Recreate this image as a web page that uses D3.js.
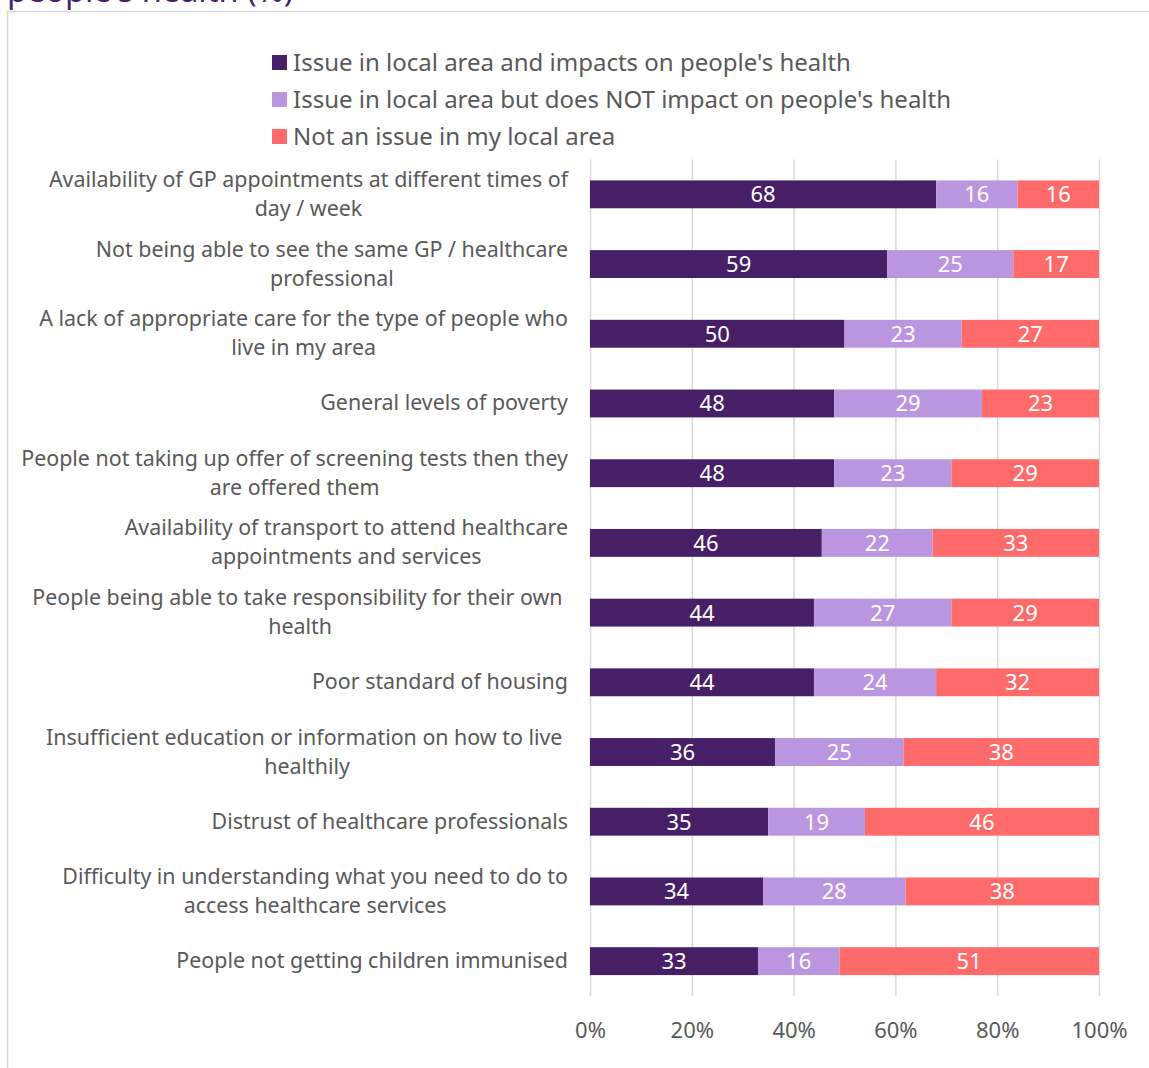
<!DOCTYPE html>
<html>
<head>
<meta charset="utf-8">
<script src="https://cdn.jsdelivr.net/npm/d3@7"></script>
<style>
  body { margin: 0; background: #fff; }
  svg { display: block; font-family: "Noto Sans", "Open Sans", sans-serif; }
  .cat text { white-space: pre; }
</style>
</head>
<body>
<svg id="chart" width="1149" height="1068"></svg>
<script>
// chart data
const categories = [
  ["Availability of GP appointments at different times of", "day / week"],
  ["Not being able to see the same GP / healthcare", "professional"],
  ["A lack of appropriate care for the type of people who", "live in my area"],
  ["General levels of poverty"],
  ["People not taking up offer of screening tests then they", "are offered them"],
  ["Availability of transport to attend healthcare", "appointments and services"],
  ["People being able to take responsibility for their own ", "health"],
  ["Poor standard of housing"],
  ["Insufficient education or information on how to live ", "healthily"],
  ["Distrust of healthcare professionals"],
  ["Difficulty in understanding what you need to do to", "access healthcare services"],
  ["People not getting children immunised"]
];
const impacts = [68, 59, 50, 48, 48, 46, 44, 44, 36, 35, 34, 33];
const noImpact = [16, 25, 23, 29, 23, 22, 27, 24, 25, 19, 28, 16];
const notIssue = [16, 17, 27, 23, 29, 33, 29, 32, 38, 46, 38, 51];
const seriesNames = [
  "Issue in local area and impacts on people's health",
  "Issue in local area but does NOT impact on people's health",
  "Not an issue in my local area"
];
const colors = ["#461f66", "#bb96e0", "#ff6b6b"];
const xTicks = [0, 0.2, 0.4, 0.6, 0.8, 1];

const svg = d3.select("#chart");
const grey = "#595959";

// outer frame and clipped title
svg.append("rect")
  .attr("x", 7.5).attr("y", 11.5)
  .attr("width", 1200).attr("height", 1100)
  .attr("fill", "none")
  .attr("stroke", "#d9d9d9")
  .attr("stroke-width", 1.5);
svg.append("text")
  .attr("x", 7).attr("y", 2)
  .attr("font-size", 32.5)
  .attr("fill", "#4b1f6f")
  .text("people's health (%)");

const rows = categories.map((c, i) => ({
  idx: i, lines: c, k0: impacts[i], k1: noImpact[i], k2: notIssue[i]
}));

const xScale = d3.scaleLinear().domain([0, 1]).range([590, 1099]);
const yScale = d3.scaleBand()
  .domain(rows.map(d => d.idx))
  .range([159.5, 996])
  .paddingInner(0.6)
  .paddingOuter(0.3);

// gridlines + x axis
const xAxis = svg.append("g")
  .attr("transform", `translate(0,${yScale.range()[1]})`)
  .call(d3.axisBottom(xScale)
    .tickValues(xTicks)
    .tickFormat(d3.format(".0%"))
    .tickSize(-(yScale.range()[1] - yScale.range()[0]))
    .tickPadding(26));
xAxis.select(".domain").remove();
xAxis.selectAll(".tick line").attr("stroke", "#d9d9d9").attr("stroke-width", 1.5);
xAxis.selectAll(".tick text")
  .attr("fill", grey)
  .attr("font-size", 22)
  .attr("font-family", "Noto Sans, sans-serif");

// stacked bars (100% stacked)
const stack = d3.stack()
  .keys(["k0", "k1", "k2"])
  .offset(d3.stackOffsetExpand);
const series = stack(rows);

const groups = svg.append("g").selectAll("g")
  .data(series)
  .join("g")
  .attr("fill", (d, i) => colors[i]);

groups.selectAll("rect")
  .data(d => d)
  .join("rect")
  .attr("x", d => xScale(d[0]))
  .attr("y", d => yScale(d.data.idx))
  .attr("width", d => xScale(d[1]) - xScale(d[0]))
  .attr("height", yScale.bandwidth());

groups.each(function (s) {
  d3.select(this).selectAll("text")
    .data(s)
    .join("text")
    .attr("x", d => (xScale(d[0]) + xScale(d[1])) / 2)
    .attr("y", d => yScale(d.data.idx) + yScale.bandwidth() / 2)
    .attr("dy", "0.36em")
    .attr("text-anchor", "middle")
    .attr("fill", "#fff")
    .attr("font-size", 22)
    .text(d => d.data[s.key]);
});

// category labels: block right-aligned, lines centred within it
const lineH = 29;
const labelRight = 568;
const cat = svg.append("g").attr("class", "cat");
rows.forEach(r => {
  const cy = yScale(r.idx) + yScale.bandwidth() / 2 - 0.5;
  const t = cat.append("text")
    .attr("font-size", 21.4)
    .attr("fill", grey);
  const spans = r.lines.map((ln, j) => t.append("tspan")
    .attr("y", cy + (j - (r.lines.length - 1) / 2) * lineH)
    .attr("dy", "0.35em")
    .text(ln));
  const w = d3.max(spans, s => s.node().getComputedTextLength());
  t.attr("text-anchor", "middle");
  spans.forEach(s => s.attr("x", labelRight - w / 2));
});

// legend
const legend = svg.append("g")
  .selectAll("g")
  .data(seriesNames)
  .join("g")
  .attr("transform", (d, i) => `translate(272,${62 + i * 37})`);
legend.append("rect")
  .attr("x", 0).attr("y", -7)
  .attr("width", 15).attr("height", 15)
  .attr("fill", (d, i) => colors[i]);
legend.append("text")
  .attr("x", 21)
  .attr("dy", "0.36em")
  .attr("font-size", 24)
  .attr("fill", grey)
  .text(d => d);
</script>
</body>
</html>
